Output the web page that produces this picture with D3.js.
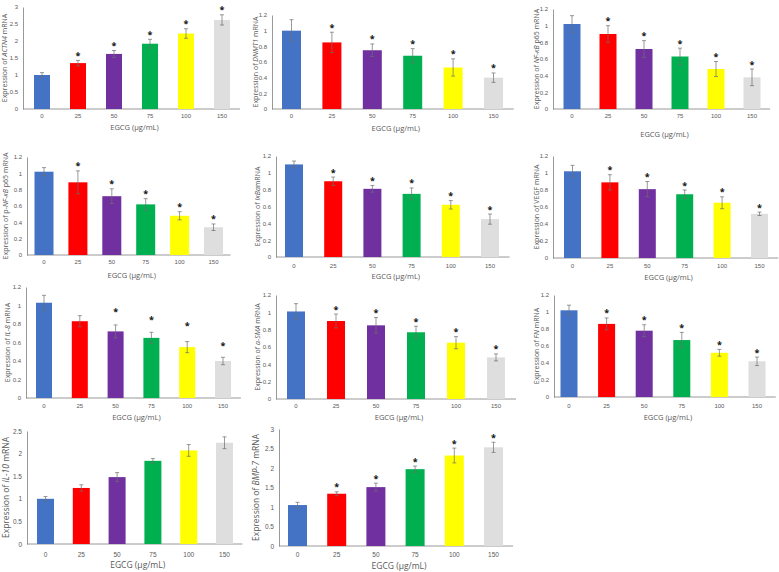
<!DOCTYPE html>
<html><head><meta charset="utf-8">
<script src="https://cdn.jsdelivr.net/npm/d3@7"></script>
<style>
html,body{margin:0;padding:0;background:#fff;}
svg{display:block;font-family:"Open Sans","Liberation Sans",sans-serif;}
</style></head>
<body><svg id="c" width="779" height="572"></svg>
<script>
// ---------- data ----------
const categories = ["0","25","50","75","100","150"];
const barColors = ["#4472C4","#FF0000","#7030A0","#00B050","#FFFF00","#DEDEDE"];

const actn4Mean = [1.00,1.35,1.62,1.92,2.22,2.62];
const actn4Err  = [0.07,0.08,0.10,0.13,0.14,0.15];
const actn4Sig  = [0,1,1,1,1,1];

const dnmt1Mean = [1.00,0.85,0.75,0.68,0.53,0.40];
const dnmt1Err  = [0.14,0.13,0.08,0.09,0.11,0.06];
const dnmt1Sig  = [0,1,1,1,1,1];

const nfkbMean = [1.02,0.90,0.72,0.63,0.48,0.38];
const nfkbErr  = [0.10,0.10,0.10,0.10,0.09,0.10];
const nfkbSig  = [0,1,1,1,1,1];

const pnfkbMean = [1.02,0.89,0.72,0.62,0.48,0.34];
const pnfkbErr  = [0.05,0.14,0.09,0.07,0.05,0.04];
const pnfkbSig  = [0,1,1,1,1,1];

const ikbaMean = [1.10,0.90,0.81,0.75,0.62,0.45];
const ikbaErr  = [0.04,0.05,0.04,0.07,0.05,0.06];
const ikbaSig  = [0,1,1,1,1,1];

const vegfMean = [1.02,0.89,0.81,0.75,0.65,0.52];
const vegfErr  = [0.07,0.09,0.09,0.05,0.07,0.02];
const vegfSig  = [0,1,1,1,1,1];

const il8Mean = [1.03,0.83,0.72,0.65,0.55,0.40];
const il8Err  = [0.08,0.06,0.07,0.06,0.06,0.04];
const il8Sig  = [0,0,1,1,1,1];
const il8StarAt = [null,null,0.94,0.85,0.79,0.57];

const asmaMean = [1.01,0.90,0.85,0.77,0.65,0.48];
const asmaErr  = [0.09,0.08,0.09,0.07,0.07,0.04];
const asmaSig  = [0,1,1,1,1,1];

const fnMean = [1.02,0.86,0.78,0.67,0.52,0.42];
const fnErr  = [0.06,0.07,0.07,0.09,0.04,0.05];
const fnSig  = [0,1,1,1,1,1];

const il10Mean = [1.00,1.24,1.48,1.84,2.07,2.24];
const il10Err  = [0.05,0.07,0.10,0.05,0.13,0.13];
const il10Sig  = [0,0,0,0,0,0];

const bmp7Mean = [1.05,1.34,1.51,1.97,2.32,2.53];
const bmp7Err  = [0.07,0.05,0.10,0.08,0.19,0.13];
const bmp7Sig  = [0,1,1,1,1,1];

const ticks12 = [0,0.2,0.4,0.6,0.8,1,1.2];
const ticks3  = [0,0.5,1,1.5,2,2.5,3];
const ticks25 = [0,0.5,1,1.5,2,2.5];
const xTitle = "EGCG (\u03bcg/mL)";

// ---------- layout (positions only) ----------
const panels = [
 {gene:"ACTN4", mean:actn4Mean, err:actn4Err, sig:actn4Sig, ticks:ticks3,
  L:23, c0:42, c5:222, w:16, top:7, base:109, lx:7, xt:118, tt:130},
 {gene:"DNMT1", mean:dnmt1Mean, err:dnmt1Err, sig:dnmt1Sig, ticks:ticks12,
  L:272, c0:291.5, c5:493.5, w:19, top:15, base:109, lx:258, xt:118, tt:131},
 {gene:"NF-\u03baB", suffix:" p65", mean:nfkbMean, err:nfkbErr, sig:nfkbSig, ticks:ticks12,
  L:553, c0:572, c5:752, w:17, top:9, base:109, lx:539, xt:118, tt:137},
 {pre:"p-", gene:"NF-\u03baB", suffix:" p65", mean:pnfkbMean, err:pnfkbErr, sig:pnfkbSig, ticks:ticks12,
  L:27, c0:44, c5:213.5, w:19, top:157, base:255, lx:8, xt:264, tt:278},
 {gene:"I\u03baB\u03b1", nospace:true, mean:ikbaMean, err:ikbaErr, sig:ikbaSig, ticks:ticks12,
  L:276, c0:294, c5:490, w:18, top:156, base:257, lx:260, xt:268, tt:279},
 {gene:"VEGF", mean:vegfMean, err:vegfErr, sig:vegfSig, ticks:ticks12, plain:true,
  L:553, c0:572.5, c5:759.5, w:17, top:156, base:258, lx:539, xt:268, tt:280},
 {gene:"IL-8", mean:il8Mean, err:il8Err, sig:il8Sig, starAt:il8StarAt, ticks:ticks12,
  L:26, c0:44, c5:223, w:16, top:287, base:398, lx:10, xt:408, tt:420},
 {gene:"\u03b1-SMA", mean:asmaMean, err:asmaErr, sig:asmaSig, ticks:ticks12,
  L:276, c0:296, c5:496, w:18, top:295, base:399, lx:260, xt:408, tt:420},
 {gene:"FN", mean:fnMean, err:fnErr, sig:fnSig, ticks:ticks12,
  L:554, c0:569, c5:757, w:17, top:295, base:397, lx:539, xt:408, tt:420},
 {gene:"IL-10", mean:il10Mean, err:il10Err, sig:il10Sig, ticks:ticks25, big:true,
  L:27, c0:45.5, c5:224.5, w:17, top:431, base:544, lx:9, xt:556, tt:568},
 {gene:"BMP-7", mean:bmp7Mean, err:bmp7Err, sig:bmp7Sig, ticks:ticks3, big:true,
  L:279, c0:297.5, c5:493.5, w:19, top:429, base:546, lx:259, xt:556, tt:569}
];

const svg = d3.select("#c");
const txt = "#595959";

panels.forEach(p => {
  const g = svg.append("g");
  const s = (p.c5 - p.c0) / 5;
  const pi = 1 - p.w / s;
  const x = d3.scaleBand().domain(categories)
    .range([p.c0 - s/2, p.c5 + s/2]).paddingInner(pi).paddingOuter(pi/2);
  const yMax = p.ticks[p.ticks.length-1];
  const y = d3.scaleLinear().domain([0, yMax]).range([p.base, p.top]);

  // y axis
  const ya = g.append("g").attr("transform", `translate(${p.L},0)`)
    .call(d3.axisLeft(y).tickValues(p.ticks).tickSize(0).tickPadding(5)
      .tickFormat(d => d3.format("~g")(d)));
  ya.select(".domain").attr("stroke", "#7f7f7f").attr("stroke-width", 0.8);
  ya.selectAll("text").attr("fill", txt).attr("font-size", p.big ? 6.5 : 6).attr("font-family", null);

  // x axis
  const xa = g.append("g").attr("transform", `translate(0,${p.base})`)
    .call(d3.axisBottom(x).tickSize(0).tickPadding(p.xt - p.base - 4));
  xa.select(".domain").attr("stroke", "#7f7f7f").attr("stroke-width", 0.8)
    .attr("d", `M${p.L},0H${p.c5 + s/2}`);
  xa.selectAll("text").attr("fill", txt).attr("font-size", p.big ? 6.5 : 6).attr("font-family", null);

  const data = categories.map((c, i) => ({c, m: p.mean[i], e: p.err[i], sig: p.sig[i], i,
      star: p.starAt ? p.starAt[i] : null}));

  g.selectAll("rect.bar").data(data).join("rect").attr("class","bar")
    .attr("x", d => x(d.c)).attr("width", x.bandwidth())
    .attr("y", d => y(d.m)).attr("height", d => p.base - y(d.m))
    .attr("fill", (d) => barColors[d.i]);

  const eb = g.selectAll("g.eb").data(data).join("g").attr("class","eb")
    .attr("stroke", "#6e6e6e").attr("stroke-width", 0.7);
  const cx = d => x(d.c) + x.bandwidth()/2;
  eb.append("line").attr("x1", cx).attr("x2", cx)
    .attr("y1", d => y(d.m - d.e)).attr("y2", d => y(d.m + d.e));
  eb.append("line").attr("x1", d => cx(d) - 2).attr("x2", d => cx(d) + 2)
    .attr("y1", d => y(d.m + d.e)).attr("y2", d => y(d.m + d.e));
  eb.append("line").attr("x1", d => cx(d) - 2).attr("x2", d => cx(d) + 2)
    .attr("y1", d => y(d.m - d.e)).attr("y2", d => y(d.m - d.e));

  g.selectAll("text.star").data(data.filter(d => d.sig)).join("text").attr("class","star")
    .attr("x", cx)
    .attr("y", d => (d.star != null ? y(d.star) + 4 : y(d.m + d.e) - 1.5))
    .attr("text-anchor","middle").attr("font-size", 9).attr("font-weight", "bold")
    .attr("fill", "#111").text("*");

  // x title
  g.append("text").attr("x", (p.L + p.c5 + s/2)/2 + 3).attr("y", p.tt)
    .attr("text-anchor","middle").attr("font-size", p.big ? 8.5 : 7.5).attr("fill", txt).text(xTitle);

  // y title (lx = baseline x of the rotated text)
  const yt = g.append("text")
    .attr("transform", `translate(${p.lx},${(p.top + p.base)/2}) rotate(-90)`)
    .attr("text-anchor","middle").attr("font-size", p.big ? 8.5 : 7).attr("fill", txt);
  yt.append("tspan").text("Expression of " + (p.pre || ""));
  yt.append("tspan").attr("font-style", p.plain ? null : "italic").text(p.gene);
  yt.append("tspan").text((p.suffix || "") + (p.nospace ? "mRNA" : " mRNA"));
});
</script></body></html>
